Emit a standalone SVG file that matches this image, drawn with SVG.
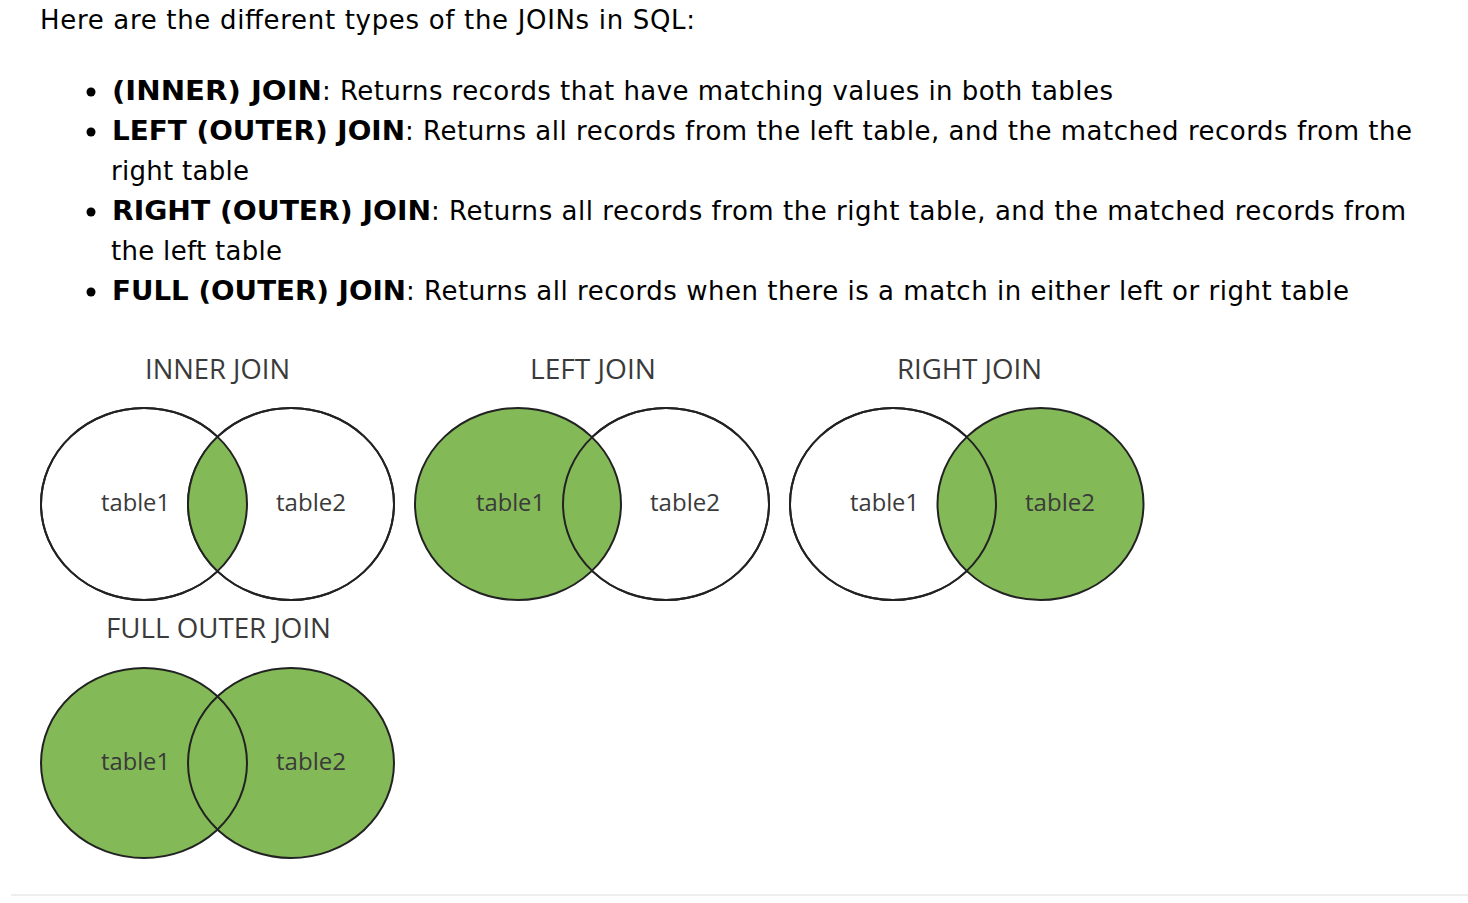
<svg xmlns="http://www.w3.org/2000/svg" width="1468" height="903" viewBox="0 0 1468 903">
<style>
.p{font-family:"DejaVu Sans",Verdana,sans-serif;font-size:26px;fill:#000}
.b{font-weight:bold}
.t{font-family:"Open Sans","Liberation Sans",sans-serif;fill:#3a3a3a}
.h{font-size:27px}
.l{font-size:24px}
.o{fill:#fff;stroke:#222;stroke-width:2}
.g{fill:#83b957}
.s{fill:none;stroke:#222;stroke-width:2}
</style>
<defs>
<clipPath id="c1"><ellipse cx="291" cy="504" rx="103" ry="96"/></clipPath>
</defs>
<rect width="1468" height="903" fill="#fff"/>
<g id="intro">
<text class="p" x="40" y="29" textLength="655" lengthAdjust="spacing">Here are the different types of the JOINs in SQL:</text>
<circle cx="91" cy="92" r="4.5" fill="#000"/>
<circle cx="91" cy="132" r="4.5" fill="#000"/>
<circle cx="91" cy="212" r="4.5" fill="#000"/>
<circle cx="91" cy="292" r="4.5" fill="#000"/>
<text class="p b" x="112" y="100" textLength="210" lengthAdjust="spacingAndGlyphs">(INNER) JOIN</text>
<text class="p" x="322" y="100" textLength="791" lengthAdjust="spacing">: Returns records that have matching values in both tables</text>
<text class="p b" x="112" y="140" textLength="293" lengthAdjust="spacingAndGlyphs">LEFT (OUTER) JOIN</text>
<text class="p" x="405" y="140" textLength="1007" lengthAdjust="spacing">: Returns all records from the left table, and the matched records from the</text>
<text class="p" x="111" y="180" textLength="138" lengthAdjust="spacing">right table</text>
<text class="p b" x="112" y="220" textLength="319" lengthAdjust="spacingAndGlyphs">RIGHT (OUTER) JOIN</text>
<text class="p" x="431" y="220" textLength="975" lengthAdjust="spacing">: Returns all records from the right table, and the matched records from</text>
<text class="p" x="111" y="260" textLength="171" lengthAdjust="spacing">the left table</text>
<text class="p b" x="112" y="300" textLength="294" lengthAdjust="spacingAndGlyphs">FULL (OUTER) JOIN</text>
<text class="p" x="406" y="300" textLength="943" lengthAdjust="spacing">: Returns all records when there is a match in either left or right table</text>
</g>
<g id="inner-join">
<text class="t h" x="217.5" y="379" text-anchor="middle" textLength="145" lengthAdjust="spacingAndGlyphs">INNER JOIN</text>
<ellipse class="o" cx="144" cy="504" rx="103" ry="96"/>
<ellipse class="o" cx="291" cy="504" rx="103" ry="96"/>
<ellipse class="g" cx="144" cy="504" rx="103" ry="96" clip-path="url(#c1)"/>
<ellipse class="s" cx="144" cy="504" rx="103" ry="96"/>
<ellipse class="s" cx="291" cy="504" rx="103" ry="96"/>
<text class="t l" x="135.5" y="511" text-anchor="middle" textLength="69" lengthAdjust="spacingAndGlyphs">table1</text>
<text class="t l" x="311" y="511" text-anchor="middle" textLength="70" lengthAdjust="spacingAndGlyphs">table2</text>
</g>
<g id="left-join">
<text class="t h" x="593" y="379" text-anchor="middle" textLength="126" lengthAdjust="spacingAndGlyphs">LEFT JOIN</text>
<ellipse class="o" cx="666" cy="504" rx="103" ry="96"/>
<ellipse class="g" cx="518" cy="504" rx="103" ry="96"/>
<ellipse class="s" cx="518" cy="504" rx="103" ry="96"/>
<ellipse class="s" cx="666" cy="504" rx="103" ry="96"/>
<text class="t l" x="510.5" y="511" text-anchor="middle" textLength="69" lengthAdjust="spacingAndGlyphs">table1</text>
<text class="t l" x="685" y="511" text-anchor="middle" textLength="70" lengthAdjust="spacingAndGlyphs">table2</text>
</g>
<g id="right-join">
<text class="t h" x="969.5" y="379" text-anchor="middle" textLength="145" lengthAdjust="spacingAndGlyphs">RIGHT JOIN</text>
<ellipse class="o" cx="893" cy="504" rx="103" ry="96"/>
<ellipse class="g" cx="1040.5" cy="504" rx="103" ry="96"/>
<ellipse class="s" cx="893" cy="504" rx="103" ry="96"/>
<ellipse class="s" cx="1040.5" cy="504" rx="103" ry="96"/>
<text class="t l" x="884.5" y="511" text-anchor="middle" textLength="69" lengthAdjust="spacingAndGlyphs">table1</text>
<text class="t l" x="1060" y="511" text-anchor="middle" textLength="70" lengthAdjust="spacingAndGlyphs">table2</text>
</g>
<g id="full-outer-join">
<text class="t h" x="218.5" y="638" text-anchor="middle" textLength="225" lengthAdjust="spacingAndGlyphs">FULL OUTER JOIN</text>
<ellipse class="g" cx="144" cy="763" rx="103" ry="95"/>
<ellipse class="g" cx="291" cy="763" rx="103" ry="95"/>
<ellipse class="s" cx="144" cy="763" rx="103" ry="95"/>
<ellipse class="s" cx="291" cy="763" rx="103" ry="95"/>
<text class="t l" x="135.5" y="770" text-anchor="middle" textLength="69" lengthAdjust="spacingAndGlyphs">table1</text>
<text class="t l" x="311" y="770" text-anchor="middle" textLength="70" lengthAdjust="spacingAndGlyphs">table2</text>
</g>
<line x1="11" y1="895" x2="1468" y2="895" stroke="#e8e8e8" stroke-width="1.5"/>
</svg>
